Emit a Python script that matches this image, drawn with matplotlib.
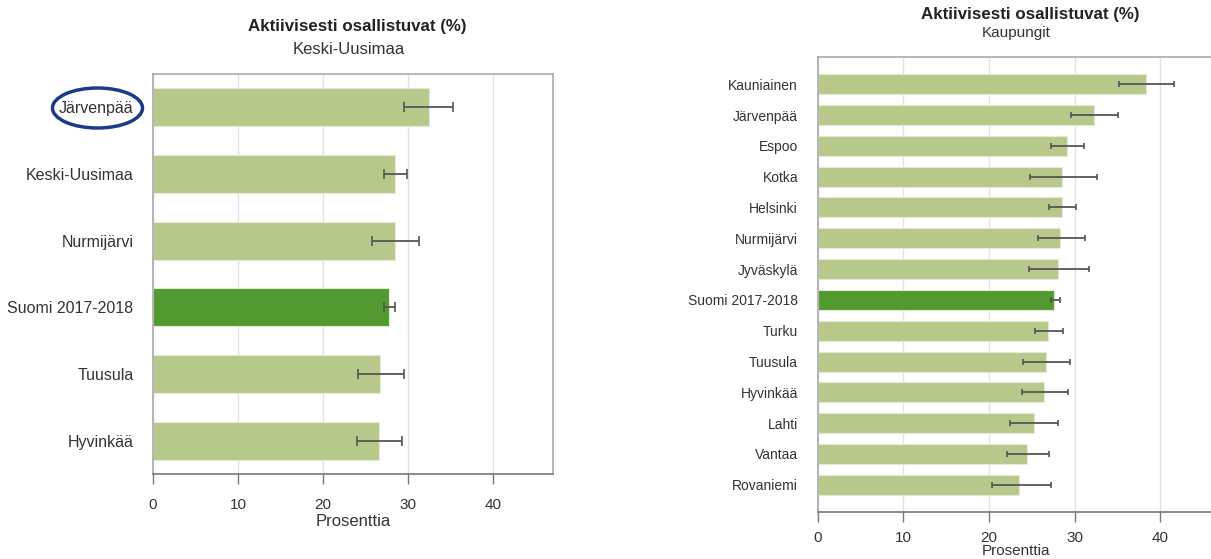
import numpy as np
import matplotlib
matplotlib.use("Agg")
import matplotlib.pyplot as plt
from matplotlib.patches import Ellipse

plt.rcParams['font.family'] = ['Liberation Sans', 'DejaVu Sans']

# vasen: Keski-Uusimaa
left_names = ["Järvenpää", "Keski-Uusimaa", "Nurmijärvi", "Suomi 2017-2018", "Tuusula", "Hyvinkää"]
left_vals = [32.4, 28.4, 28.4, 27.7, 26.7, 26.5]
left_lo = [29.5, 27.2, 25.7, 27.2, 24.1, 24.0]
left_hi = [35.2, 29.9, 31.3, 28.4, 29.5, 29.3]

# oikea: kaupungit
right_names = ["Kauniainen", "Järvenpää", "Espoo", "Kotka", "Helsinki", "Nurmijärvi", "Jyväskylä",
               "Suomi 2017-2018", "Turku", "Tuusula", "Hyvinkää", "Lahti", "Vantaa", "Rovaniemi"]
right_vals = [38.3, 32.3, 29.1, 28.5, 28.5, 28.3, 28.1, 27.6, 26.9, 26.6, 26.4, 25.2, 24.4, 23.5]
right_lo = [35.2, 29.6, 27.2, 24.8, 27.0, 25.7, 24.7, 27.2, 25.4, 24.0, 23.9, 22.5, 22.1, 20.3]
right_hi = [41.6, 35.1, 31.1, 32.6, 30.1, 31.2, 31.7, 28.3, 28.6, 29.5, 29.2, 28.0, 27.0, 27.2]

title = "Aktiivisesti osallistuvat (%)"
xticks = [0, 10, 20, 30, 40]
light = "#b7c98a"
dark = "#529a30"

W, H = 1211, 559
fig = plt.figure(figsize=(W / 100, H / 100), dpi=100)


def panel(rect, names, vals, lo, hi, fs, bar_h, ypad, cap, xpad):
    ax = fig.add_axes(rect)
    n = len(names)
    y = np.arange(n)
    vals = np.array(vals)
    err = np.array([vals - np.array(lo), np.array(hi) - vals])
    colors = [dark if nm.startswith("Suomi") else light for nm in names]
    ax.barh(y, vals, height=bar_h, color=colors, edgecolor="#e4ebd5", linewidth=0.8, zorder=2)
    ax.errorbar(vals, y, xerr=err, fmt="none", ecolor="#555555", elinewidth=1.3,
                capsize=cap, capthick=1.2, zorder=3)
    ax.set_ylim(n - 1 + ypad, -ypad)
    ax.set_xlim(0, 47)
    ax.set_yticks(y)
    ax.set_yticklabels(names, fontsize=fs, color="#333333")
    ax.set_xticks(xticks)
    ax.set_xticklabels([str(t) for t in xticks], fontsize=11, color="#333333")
    ax.tick_params(axis="y", length=0, pad=14)
    ax.tick_params(axis="x", length=7, width=1, color="#777777", pad=xpad)
    ax.grid(axis="x", color="#e3e3e3", linewidth=1)
    ax.set_axisbelow(True)
    for s in ["top", "right", "left"]:
        ax.spines[s].set_color("#aaaaaa")
        ax.spines[s].set_linewidth(1.2)
    ax.spines["bottom"].set_color("#777777")
    ax.spines["bottom"].set_linewidth(1.2)
    return ax


panel([153 / W, 1 - 474 / H, 400 / W, 400 / H], left_names, left_vals, left_lo, left_hi,
      11.5, 0.57, 0.5, 3.5, 10)
panel([817.5 / W, 1 - 512 / H, 403 / W, 455 / H], right_names, right_vals, right_lo, right_hi,
      10, 0.65, 0.885, 2.5, 6.5)

# otsikot
fig.text(357 / W, 1 - 27 / H, title, ha="center", va="center", fontsize=12.2, fontweight="bold", color="#222222")
fig.text(349 / W, 1 - 49 / H, "Keski-Uusimaa", ha="center", va="center", fontsize=12, color="#333333")
fig.text(353 / W, 1 - 522 / H, "Prosenttia", ha="center", va="center", fontsize=12, color="#333333")
fig.text(1030 / W, 1 - 15 / H, title, ha="center", va="center", fontsize=12.2, fontweight="bold", color="#222222")
fig.text(1016 / W, 1 - 33 / H, "Kaupungit", ha="center", va="center", fontsize=11, color="#333333")
fig.text(1016 / W, 1 - 551 / H, "Prosenttia", ha="center", va="center", fontsize=11, color="#333333")

# ympyröity Järvenpää
fig.add_artist(Ellipse((97.5 / W, 1 - 108 / H), 90 / W, 40 / H, transform=fig.transFigure,
                       fill=False, edgecolor="#1b3a8a", linewidth=2.5))

fig.savefig("out.png", dpi=100)
